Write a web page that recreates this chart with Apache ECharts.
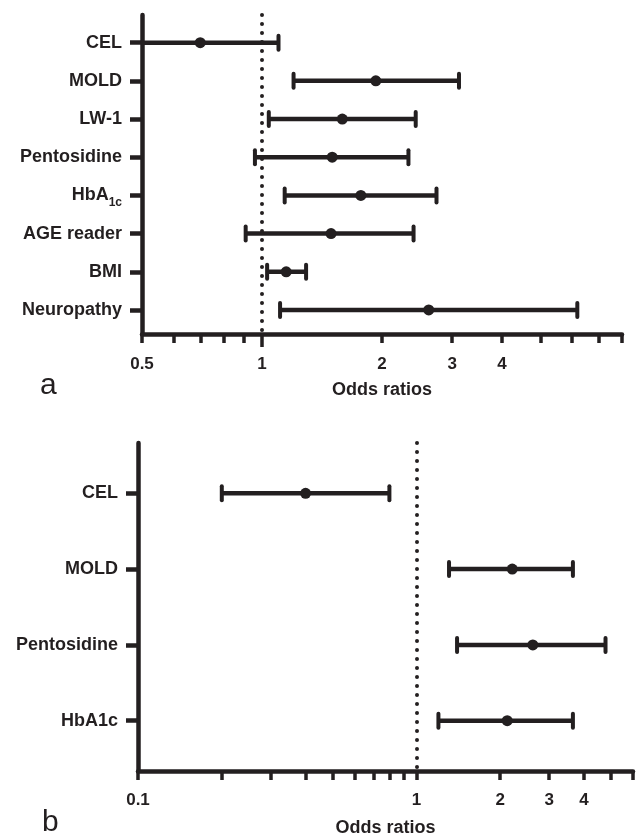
<!DOCTYPE html>
<html><head><meta charset="utf-8">
<script src="https://cdn.jsdelivr.net/npm/echarts@6/dist/echarts.min.js"></script>
<style>html,body{margin:0;padding:0;background:#fff}#c{width:643px;height:838px}</style>
</head><body><div id="c"></div>
<script>
// Panel a
const catsA = ['CEL','MOLD','LW-1','Pentosidine','HbA1c','AGE reader','BMI','Neuropathy'];
const lowA  = [0.45, 1.20, 1.04, 0.96, 1.14, 0.91, 1.03, 1.11];
const orA   = [0.70, 1.93, 1.59, 1.50, 1.77, 1.49, 1.15, 2.62];
const highA = [1.10, 3.12, 2.43, 2.33, 2.74, 2.40, 1.29, 6.18];
const ticksA  = [0.5,0.6,0.7,0.8,0.9,1,2,3,4,5,6,7,8];
const labelsA = [0.5,1,2,3,4];
// Panel b
const catsB = ['CEL','MOLD','Pentosidine','HbA1c'];
const lowB  = [0.20, 1.31, 1.40, 1.20];
const orB   = [0.40, 2.21, 2.62, 2.12];
const highB = [0.80, 3.65, 4.78, 3.65];
const ticksB  = [0.1,0.2,0.3,0.4,0.5,0.6,0.7,0.8,0.9,1,2,3,4,5,6];
const labelsB = [0.1,1,2,3,4];

const ink = '#231f20';
const FONT = 'Liberation Sans';
const fmtNum = v => String(Number(Number(v).toPrecision(3)));

function errSeries(idx, low, or, high) {
  const data = low.map((l, i) => [i + 1, l, or[i], high[i]]);
  return {
    type: 'custom', xAxisIndex: idx, yAxisIndex: idx, data,
    encode: { x: [1, 2, 3], y: 0 },
    renderItem(params, api) {
      const y = api.value(0);
      const a = api.coord([api.value(1), y]);
      const b = api.coord([api.value(2), y]);
      const c = api.coord([api.value(3), y]);
      const left = params.coordSys.x;
      const x0 = Math.max(a[0], left);
      const ch = [
        { type: 'line', shape: { x1: x0, y1: a[1], x2: c[0], y2: c[1] }, style: { stroke: ink, lineWidth: 4.5 } },
        { type: 'line', shape: { x1: c[0], y1: c[1] - 7, x2: c[0], y2: c[1] + 7 }, style: { stroke: ink, lineWidth: 4, lineCap: 'round' } },
        { type: 'circle', shape: { cx: b[0], cy: b[1], r: 5.5 }, style: { fill: ink } }
      ];
      if (a[0] >= left) ch.push({ type: 'line', shape: { x1: a[0], y1: a[1] - 7, x2: a[0], y2: a[1] + 7 }, style: { stroke: ink, lineWidth: 4, lineCap: 'round' } });
      return { type: 'group', children: ch };
    },
    markLine: {
      silent: true, symbol: 'none', animation: false,
      label: { show: false },
      lineStyle: { color: ink, width: 4, type: [0, 9], cap: 'round' },
      data: [{ xAxis: 1 }]
    }
  };
}

function xAx(gi, base, min, max, ticks, labels, margin, gap) {
  return {
    type: 'log', gridIndex: gi, logBase: base, min, max, position: 'bottom',
    name: 'Odds ratios', nameLocation: 'middle', nameGap: gap,
    nameTextStyle: { fontFamily: FONT, fontWeight: 'bold', fontSize: 18, color: ink },
    axisLine: { show: true, lineStyle: { color: ink, width: 4.5 } },
    axisTick: { show: true, customValues: ticks, length: 9, lineStyle: { color: ink, width: 3.5 } },
    axisLabel: { customValues: labels, formatter: v => fmtNum(v), margin, fontFamily: FONT, fontWeight: 'bold', fontSize: 17, color: ink },
    splitLine: { show: false }, minorTick: { show: false }
  };
}
function yAx(gi, cats, min, max, sub) {
  const vals = cats.map((c, i) => i + 1);
  return {
    type: 'value', gridIndex: gi, inverse: true, min, max,
    axisLine: { show: true, lineStyle: { color: ink, width: 4.5 } },
    axisTick: { show: true, customValues: vals, length: 12, lineStyle: { color: ink, width: 4.5 } },
    axisLabel: {
      customValues: vals, margin: 20, fontFamily: FONT, fontWeight: 'bold', fontSize: 18, color: ink,
      formatter: v => { const n = cats[Math.round(v) - 1] || ''; return (sub && n === 'HbA1c') ? '{m|HbA}{s|1c}' : n; },
      rich: {
        m: { fontFamily: FONT, fontWeight: 'bold', fontSize: 18, color: ink, lineHeight: 26, verticalAlign: 'middle' },
        s: { fontFamily: FONT, fontWeight: 'bold', fontSize: 12, color: ink, lineHeight: 12, verticalAlign: 'bottom' }
      }
    },
    splitLine: { show: false }
  };
}

const chart = echarts.init(document.getElementById('c'), null, { renderer: 'canvas' });
chart.setOption({
  animation: false,
  backgroundColor: '#fff',
  grid: [
    { left: 142, top: 15, width: 480, height: 319 },
    { left: 138, top: 443, width: 495, height: 332 }
  ],
  xAxis: [
    xAx(0, 2, 0.5, 8, ticksA, labelsA, 22, 47),
    xAx(1, 10, 0.1, 6, ticksB, labelsB, 21, 48),
    { type: 'log', gridIndex: 0, logBase: 2, min: 0.5, max: 8, position: 'bottom', offset: 0,
      axisLine: { show: false }, axisLabel: { show: false }, splitLine: { show: false },
      axisTick: { show: true, customValues: [1], length: 13, lineStyle: { color: ink, width: 3.5 } } }
  ],
  yAxis: [
    yAx(0, catsA, 0.275, 8.63, true),
    yAx(1, catsB, 0.335, 4.665, false)
  ],
  series: [errSeries(0, lowA, orA, highA), errSeries(1, lowB, orB, highB)],
  graphic: [
    { type: 'text', left: 40, top: 371, style: { text: 'a', fontFamily: FONT, fontSize: 30, fill: ink } },
    { type: 'text', left: 42, top: 808, style: { text: 'b', fontFamily: FONT, fontSize: 30, fill: ink } }
  ]
});
</script></body></html>
